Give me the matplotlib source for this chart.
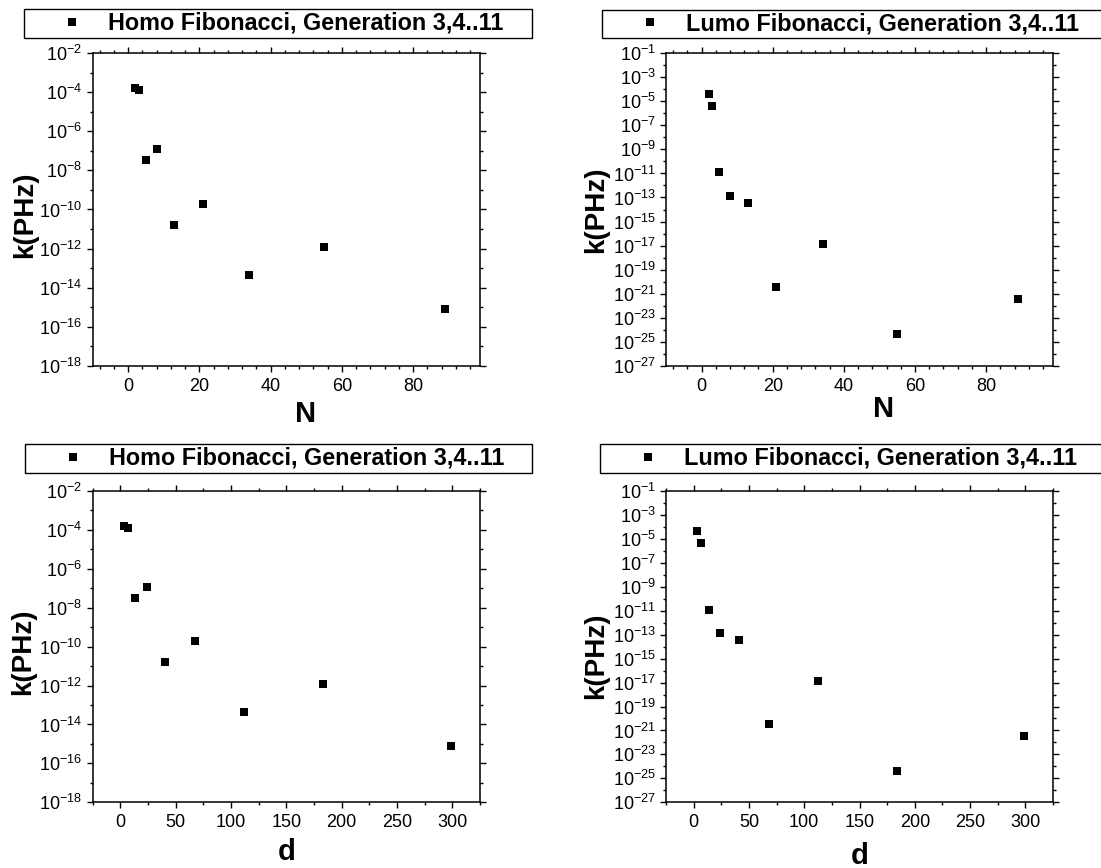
import matplotlib
matplotlib.use("Agg")
import matplotlib.pyplot as plt
from matplotlib.ticker import FixedLocator, MultipleLocator, LogFormatterMathtext, NullFormatter

# Fibonacci chain generations 3..11
N = [2, 3, 5, 8, 13, 21, 34, 55, 89]
d = [3.4, 6.8, 13.6, 23.8, 40.8, 68.0, 112.2, 183.6, 299.2]

# transfer rates k (PHz) for HOMO and LUMO
k_homo = [1.6e-4, 1.3e-4, 3.3e-8, 1.2e-7, 1.6e-11, 1.85e-10, 4.6e-14, 1.25e-12, 8.1e-16]
k_lumo = [4.4e-5, 4.5e-6, 1.25e-11, 1.35e-13, 3.3e-14, 3.4e-21, 1.4e-17, 4.1e-25, 3.7e-22]

homo_label = "Homo Fibonacci, Generation 3,4..11"
lumo_label = "Lumo Fibonacci, Generation 3,4..11"

plt.rcParams["font.family"] = ["Liberation Sans", "DejaVu Sans"]
plt.rcParams["mathtext.fontset"] = "custom"
plt.rcParams["mathtext.rm"] = "Liberation Sans"
plt.rcParams["mathtext.bf"] = "Liberation Sans:bold"

W, H = 1101, 868
fig = plt.figure(figsize=(W / 100, H / 100), dpi=100)


def px_axes(l, t, r, b):
    return [l / W, 1 - b / H, (r - l) / W, (b - t) / H]


def style_axes(ax, x_major, x_minor, dec_major, dec_minor):
    ax.set_yscale("log")
    ax.yaxis.set_major_locator(FixedLocator([10.0 ** e for e in dec_major]))
    ax.yaxis.set_minor_locator(FixedLocator([10.0 ** e for e in dec_minor]))
    ax.yaxis.set_major_formatter(LogFormatterMathtext(base=10))
    ax.yaxis.set_minor_formatter(NullFormatter())
    ax.xaxis.set_major_locator(MultipleLocator(x_major))
    ax.xaxis.set_minor_locator(MultipleLocator(x_minor))
    for sp in ax.spines.values():
        sp.set_linewidth(1.1)
    ax.tick_params(which="both", direction="out", width=1.0, labelsize=13,
                   top=True, right=True, pad=3)
    ax.tick_params(which="major", length=4.5)
    ax.tick_params(which="minor", length=2.5)
    ax.tick_params(axis="x", which="major", pad=4)


def add_legend(ax, label, l, t, w):
    leg = ax.legend([ax.lines[0]], [label], loc="upper left",
                    bbox_to_anchor=(l / W, 1 - t / H, w / W, 0.001),
                    bbox_transform=fig.transFigure, mode="expand",
                    borderaxespad=0, borderpad=0.12, fancybox=False,
                    framealpha=1, edgecolor="black", handlelength=3.9,
                    handletextpad=-0.4,
                    prop={"weight": "bold", "size": 16.8})
    leg.get_frame().set_linewidth(1.0)


def add_labels(ax, xlab, xl, yl):
    ax.set_xlabel(xlab, fontsize=21, fontweight="bold")
    ax.xaxis.label.set_va("baseline")
    ax.xaxis.set_label_coords(*xl)
    ax.set_ylabel("k(PHz)", fontsize=20, fontweight="bold")
    ax.yaxis.label.set_va("center")
    ax.yaxis.set_label_coords(*yl)


panels = [
    dict(x=N, k=k_homo, lab=homo_label, box=(92.5, 53.3, 480, 365.7), xlim=(-10, 98.8),
         xt=(20, 4), ylim=(-18, -2), xlab="N", xl=(0.551, -0.179), yl=(-0.174, 0.482),
         leg=(24, 10, 508)),
    dict(x=N, k=k_lumo, lab=lumo_label, box=(666, 53.3, 1053, 365.7), xlim=(-10, 98.8),
         xt=(20, 4), ylim=(-27, -1), xlab="N", xl=(0.561, -0.164), yl=(-0.181, 0.498),
         leg=(602, 10.7, 508)),
    dict(x=d, k=k_homo, lab=homo_label, box=(92.5, 491, 480, 802.3), xlim=(-25, 325),
         xt=(50, 25), ylim=(-18, -2), xlab="d", xl=(0.502, -0.185), yl=(-0.178, 0.484),
         leg=(25, 445, 507)),
    dict(x=d, k=k_lumo, lab=lumo_label, box=(666, 491, 1053, 802.3), xlim=(-25, 325),
         xt=(50, 25), ylim=(-27, -1), xlab="d", xl=(0.501, -0.198), yl=(-0.18, 0.47),
         leg=(600, 445, 508)),
]

for p in panels:
    ax = fig.add_axes(px_axes(*p["box"]))
    ax.plot(p["x"], p["k"], linestyle="none", marker="s", markersize=5.4,
            color="black", markeredgewidth=0)
    lo, hi = p["ylim"]
    dec_major = list(range(lo, hi + 1, 2))
    dec_minor = [e for e in range(lo, hi + 1) if e not in dec_major]
    style_axes(ax, p["xt"][0], p["xt"][1], dec_major, dec_minor)
    ax.set_xlim(*p["xlim"])
    ax.set_ylim(10.0 ** lo, 10.0 ** hi)
    add_labels(ax, p["xlab"], p["xl"], p["yl"])
    add_legend(ax, p["lab"], *p["leg"])

fig.savefig("out.png", dpi=100)
